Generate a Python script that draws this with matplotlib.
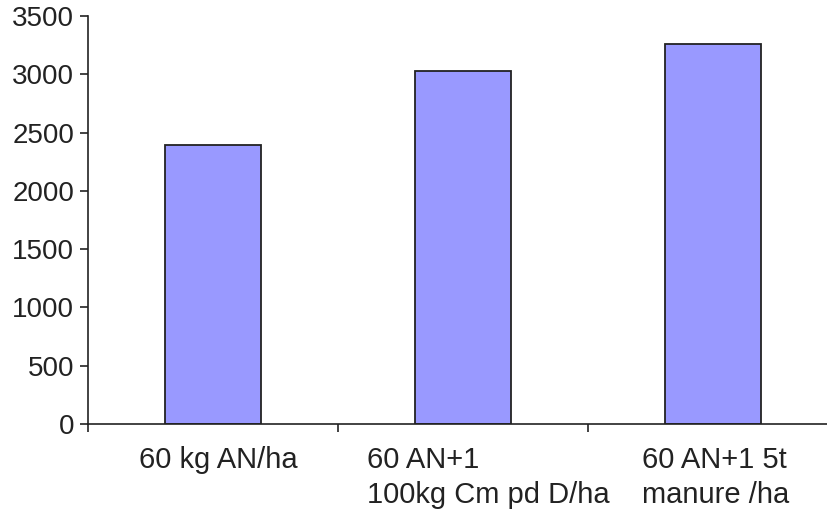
import numpy as np
import matplotlib
matplotlib.use("Agg")
import matplotlib.pyplot as plt

plt.rcParams['font.family'] = ['Liberation Sans', 'DejaVu Sans']

categories = ["60 kg AN/ha", "60 AN+1\n100kg Cm pd D/ha", "60 AN+1 5t\nmanure /ha"]
values = [2390, 3030, 3260]
yticks = [0, 500, 1000, 1500, 2000, 2500, 3000, 3500]

fig = plt.figure(figsize=(8.28, 5.12), dpi=100)
ax = fig.add_axes([88/828, 1 - 424/512, 740/828, 408/512])

x = np.arange(len(categories))
ax.bar(x, values, width=0.384, color='#9999FF', edgecolor='#222222', linewidth=1.3, zorder=2)

ax.set_xlim(-0.5, 2.46)
ax.set_ylim(0, 3500)
ax.set_yticks(yticks)
ax.tick_params(axis='y', labelsize=20, length=6, width=1.2, direction='out', pad=4, colors='#222222')
ax.set_xticks([-0.5, 0.5, 1.5])
ax.set_xticklabels([])
ax.tick_params(axis='x', length=6, width=1.2, direction='out', colors='#222222')

# label 2 sits a little right of its bar in the original
label_shift = [0.02, 0.1, 0.01]
for i, lab in enumerate(categories):
    ax.text(i + label_shift[i], -190, lab, ha='center', va='top', multialignment='left',
            fontsize=21, color='#222222', linespacing=1.3)

for s in ['top', 'right']:
    ax.spines[s].set_visible(False)
for s in ['left', 'bottom']:
    ax.spines[s].set_linewidth(1.2)
    ax.spines[s].set_color('#222222')
ax.spines['bottom'].set_zorder(3)

fig.savefig("out.png", dpi=100)
